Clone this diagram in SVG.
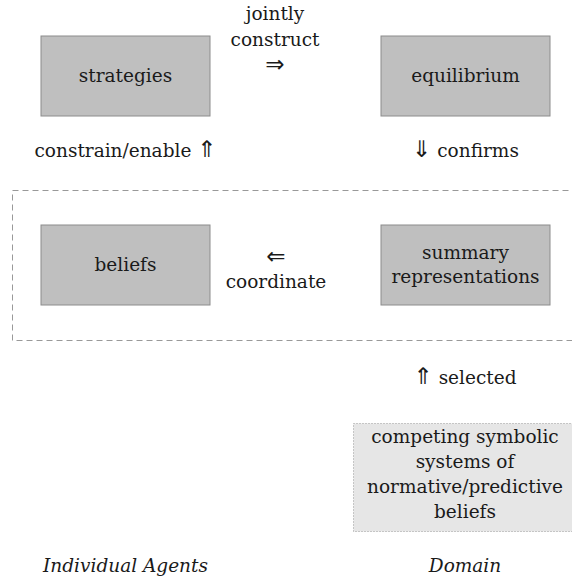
<svg xmlns="http://www.w3.org/2000/svg" width="572" height="579" viewBox="0 0 572 579">
<style>
text{font-family:'DejaVu Serif',serif;font-size:18.5px;fill:#1a1a1a;text-anchor:middle}
.it{font-style:italic}
.ar{font-family:'DejaVu Sans',sans-serif;font-size:23px}
.box{fill:#bfbfbf;stroke:#8c8c8c;stroke-width:1}
.dom{fill:#e6e6e6;stroke:#999;stroke-width:1;stroke-dasharray:1 2}
.grp{fill:none;stroke:#999;stroke-width:1;stroke-dasharray:6 4}
</style>
<rect width="572" height="579" fill="#fff"/>
<g id="group-frame"><rect class="grp" x="12.5" y="190.5" width="620" height="150"/></g>
<g id="strategies"><rect class="box" x="41" y="36" width="169" height="80"/><text x="125.5" y="82">strategies</text></g>
<g id="equilibrium"><rect class="box" x="381" y="36" width="169" height="80"/><text x="465.5" y="82">equilibrium</text></g>
<g id="beliefs"><rect class="box" x="41" y="225" width="169" height="80"/><text x="125.5" y="271">beliefs</text></g>
<g id="summary"><rect class="box" x="381" y="225" width="169" height="80"/><text x="465.5" y="259">summary</text><text x="465.5" y="283">representations</text></g>
<g id="domain-box"><rect class="dom" x="353.5" y="423.5" width="225" height="108"/>
<text x="465" y="443">competing symbolic</text><text x="465" y="468">systems of</text><text x="465" y="493">normative/predictive</text><text x="465" y="518">beliefs</text></g>
<g id="connectors">
<text x="275" y="20">jointly</text><text x="275" y="46">construct</text><text x="275" y="72"><tspan class="ar">⇒</tspan></text>
<text x="125.5" y="157">constrain/enable <tspan class="ar">⇑</tspan></text>
<text x="465.5" y="157"><tspan class="ar">⇓</tspan> confirms</text>
<text x="276" y="264"><tspan class="ar">⇐</tspan></text><text x="276" y="288">coordinate</text>
<text x="465" y="384"><tspan class="ar">⇑</tspan> selected</text>
</g>
<g id="labels"><text class="it" x="125.5" y="572">Individual Agents</text><text class="it" x="465" y="572">Domain</text></g>
</svg>
